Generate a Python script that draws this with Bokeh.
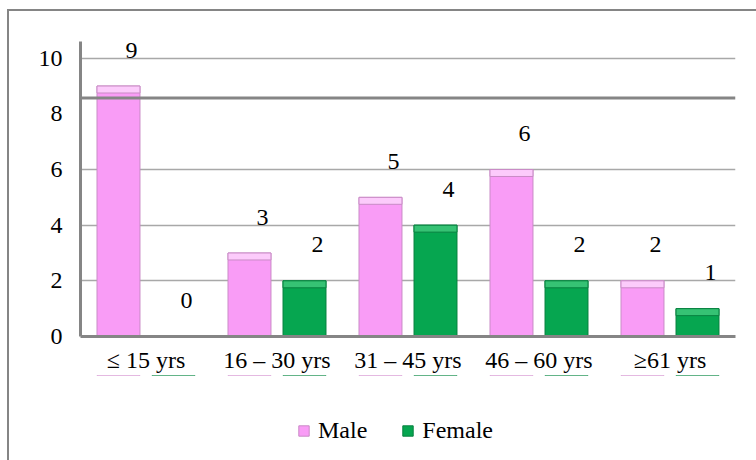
from bokeh.plotting import figure
from bokeh.models import (ColumnDataSource, FactorRange, Range1d, FixedTicker,
                          Span, Legend, LegendItem)
from bokeh.layouts import column
from bokeh.transform import dodge
from bokeh.core.properties import value
from bokeh.embed import file_html
from bokeh.resources import INLINE

# ---- data ----
categories = ["≤ 15 yrs", "16 – 30 yrs", "31 – 45 yrs", "46 – 60 yrs", "≥61 yrs"]
male = [9, 3, 5, 6, 2]
female = [0, 2, 4, 2, 1]
y_ticks = [0, 2, 4, 6, 8, 10]
series_names = ["Male", "Female"]

# ---- styles ----
FONT = "Times"
FS = "24px"
PINK = "#F99CF6"
PINK_TOP = "#FCCBFB"
PINK_EDGE = "#C98BC6"
GREEN = "#06A650"
GREEN_TOP = "#36C274"
GREEN_EDGE = "#07803F"
AXIS_GRAY = "#858585"
GRID_GRAY = "#A8A8A8"

BEVEL = 0.25
src = ColumnDataSource(dict(
    cat=categories,
    male=male,
    female=female,
    male_b=[v - BEVEL for v in male],
    female_b=[v - BEVEL for v in female],
    male_t=[str(v) for v in male],
    female_t=[str(v) for v in female],
))

# main chart (content starts at page (9, 11) because of the container's margin + border)
p = figure(x_range=FactorRange(*categories), y_range=Range1d(0, 10.6),
           width=747, height=364, output_backend="svg", toolbar_location=None,
           min_border_left=71, min_border_right=21, min_border_top=30,
           min_border_bottom=36)
p.outline_line_color = None
p.background_fill_color = "white"
p.border_fill_color = "white"

OFF = 0.21
W = 0.328
p.vbar(x=dodge("cat", -OFF, range=p.x_range), top="male", width=W, source=src,
       fill_color=PINK, line_color=PINK_EDGE, line_width=1)
p.vbar(x=dodge("cat", -OFF, range=p.x_range), top="male", bottom="male_b", width=W,
       source=src, fill_color=PINK_TOP, line_color=PINK_EDGE, line_width=1)
p.vbar(x=dodge("cat", OFF, range=p.x_range), top="female", width=W, source=src,
       fill_color=GREEN, line_color=GREEN_EDGE, line_width=1)
p.vbar(x=dodge("cat", OFF, range=p.x_range), top="female", bottom="female_b", width=W,
       source=src, fill_color=GREEN_TOP, line_color=GREEN_EDGE, line_width=1)

# value labels
for col, txt, off in (("male", "male_t", -OFF), ("female", "female_t", OFF)):
    p.text(x=dodge("cat", off, range=p.x_range), y=col, text=txt, source=src,
           x_offset=13, y_offset=-36, text_align="center", text_baseline="middle",
           text_font=value(FONT), text_font_size=FS, text_color="black")

# grid
p.xgrid.grid_line_color = None
p.ygrid.ticker = FixedTicker(ticks=[2, 4, 6, 10])
p.ygrid.grid_line_color = GRID_GRAY
p.ygrid.grid_line_width = 1.5
p.add_layout(Span(location=8.57, dimension="width", line_color=AXIS_GRAY, line_width=3))

# axes
p.yaxis.ticker = FixedTicker(ticks=y_ticks)
for ax in (p.xaxis, p.yaxis):
    ax.axis_line_color = AXIS_GRAY
    ax.axis_line_width = 3
    ax.major_tick_line_color = None
    ax.minor_tick_line_color = None
    ax.major_label_text_font = FONT
    ax.major_label_text_font_size = FS
    ax.major_label_text_color = "black"
p.yaxis.major_label_standoff = 12
p.xaxis.major_label_standoff = 4

# legend strip below the chart (series renderers kept far out of its view, only the keys show)
pl = figure(width=747, height=85, x_range=FactorRange(*categories), y_range=Range1d(-20, -10),
            output_backend="svg", toolbar_location=None,
            min_border_left=0, min_border_right=0, min_border_top=0, min_border_bottom=0)
pl.axis.visible = False
pl.grid.visible = False
pl.outline_line_color = None
pl.background_fill_color = "white"
pl.border_fill_color = "white"
lm = pl.vbar(x=dodge("cat", -OFF, range=pl.x_range), top="male", width=W, source=src,
             fill_color=PINK, line_color=PINK_EDGE)
lf = pl.vbar(x=dodge("cat", OFF, range=pl.x_range), top="female", width=W, source=src,
             fill_color=GREEN, line_color=GREEN_EDGE)
legend = Legend(items=[LegendItem(label=series_names[0], renderers=[lm]),
                       LegendItem(label=series_names[1], renderers=[lf])],
                orientation="horizontal", location=(217, 16),
                glyph_width=13, glyph_height=13, label_standoff=8, spacing=34,
                padding=0, margin=0, border_line_color=None,
                background_fill_alpha=0,
                label_text_font=FONT, label_text_font_size=FS,
                label_text_color="black")
pl.add_layout(legend, "center")

layout = column(p, pl, spacing=0)
layout.styles = {"margin-left": "7px", "margin-top": "9px",
                 "border-left": "2px solid #858585", "border-top": "2px solid #858585"}

open("out.html", "w").write(file_html(layout, INLINE))
